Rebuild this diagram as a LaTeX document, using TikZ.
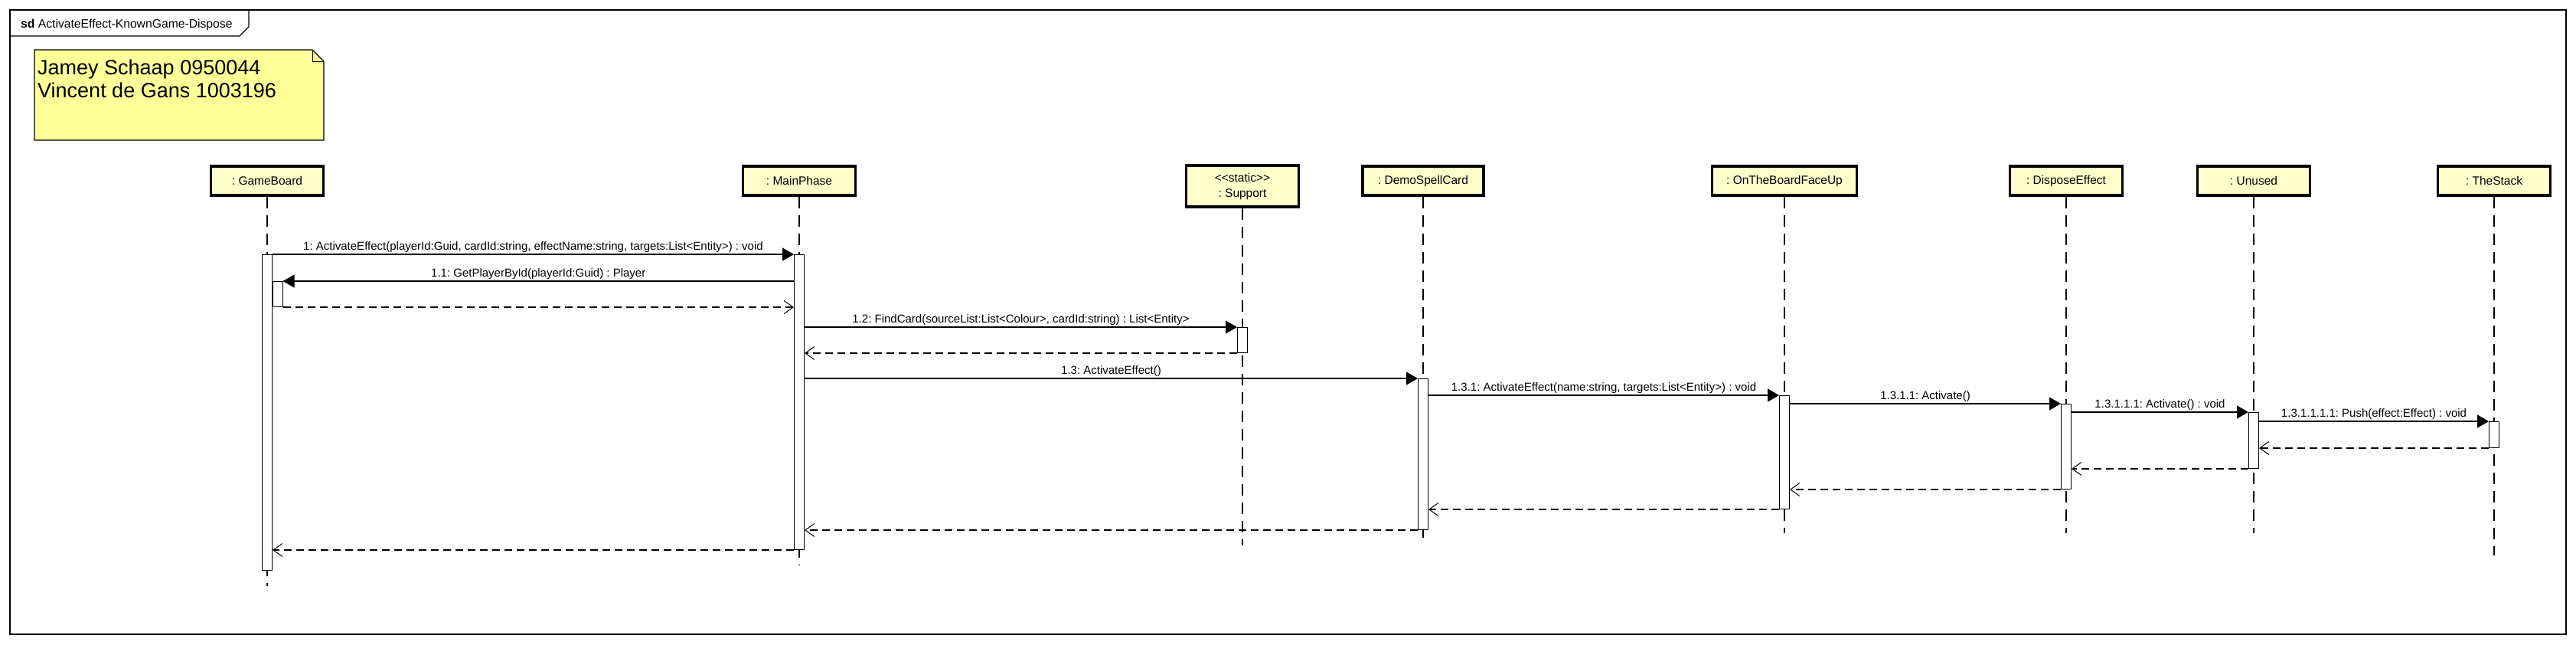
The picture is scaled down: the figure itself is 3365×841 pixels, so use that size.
\documentclass[tikz,border=0pt]{standalone}
\usepackage{fontspec}
\setmainfont{Liberation Sans}
\usetikzlibrary{arrows.meta,calc}
\definecolor{headfill}{RGB}{255,255,204}
\definecolor{notefill}{RGB}{255,255,153}
\frenchspacing
\begin{document}
\begin{tikzpicture}[x=1pt,y=-1pt,
  head/.style={draw, line width=3.2pt, fill=headfill, minimum width=147pt, minimum height=38pt, inner sep=0pt, font=\fontsize{15.5}{20}\selectfont, align=center},
  act/.style={draw, line width=1pt, fill=white, minimum width=13pt, inner sep=0pt, anchor=north},
  lifeline/.style={line width=1.2pt, dash pattern=on 15pt off 9pt},
  msg/.style={line width=1.2pt, -{Triangle[length=15pt,width=17pt]}},
  ret/.style={line width=1.2pt, dash pattern=on 10pt off 6pt, -{Straight Barb[length=12pt,width=17pt,line width=1pt]}},
  lbl/.style={font=\fontsize{15}{18}\selectfont, inner sep=2pt, anchor=south},
  notetext/.style={anchor=base west, inner sep=0pt, font=\fontsize{27}{30}\selectfont}]
\useasboundingbox (0,0) rectangle (3365,841);
% frame
\draw[line width=1.5pt] (13,13) rectangle (3352,828);
\draw[line width=1.2pt] (13,47) -- (313,47) -- (325,35) -- (325,13);
\node[anchor=base west, inner sep=0pt, font=\fontsize{15.7}{18}\selectfont] (title) at (27,36) {\textbf{sd} ActivateEffect-KnownGame-Dispose};
% note
\draw[line width=1.2pt, fill=notefill] (45,65) -- (408,65) -- (423,80) -- (423,183) -- (45,183) -- cycle;
\draw[line width=1pt] (408,65) -- (408,80) -- (423,80);
\node[notetext] (note1) at (49,97) {Jamey Schaap 0950044};
\node[notetext] (note2) at (49,127) {Vincent de Gans 1003196};
% heads
\node[head] (gb) at (349,236) {: GameBoard};
\node[head] (mp) at (1044,236) {: MainPhase};
\node[head, minimum height=54pt] (sup) at (1623,243) {{<}{<}static{>}{>}\\: Support};
\node[head, minimum width=158pt] (dsc) at (1859,236) {: DemoSpellCard};
\node[head, minimum width=189pt] (ot) at (2331,236) {: OnTheBoardFaceUp};
\node[head] (de) at (2699,236) {: DisposeEffect};
\node[head] (un) at (2944,236) {: Unused};
\node[head] (ts) at (3258,236) {: TheStack};
% lifeline ends
\coordinate (gbE) at (349,765);
\coordinate (mpE) at (1044,737);
\coordinate (supE) at (1623,712);
\coordinate (dscE) at (1859,702);
\coordinate (otE) at (2331,696);
\coordinate (deE) at (2699,696);
\coordinate (unE) at (2944,696);
\coordinate (tsE) at (3258,725);
\foreach \n in {gb,mp,sup,dsc,ot,de,un,ts}{\draw[lifeline] (\n.south) -- (\n E);}
% activations
\node[act, minimum height=412pt] (gbA) at (349,332) {};
\node[act, minimum height=33pt] (gbN) at (362.5,367) {};
\node[act, minimum height=385pt] (mpA) at (1044,332) {};
\node[act, minimum height=33pt] (supA) at (1623,427) {};
\node[act, minimum height=197pt] (dscA) at (1859,494) {};
\node[act, minimum height=148pt] (otA) at (2331,516) {};
\node[act, minimum height=111pt] (deA) at (2699,527) {};
\node[act, minimum height=73pt] (unA) at (2944,538) {};
\node[act, minimum height=34pt] (tsA) at (3258,550) {};
% messages
\draw[msg] (gbA.north east) -- node[lbl] {1: ActivateEffect(playerId:Guid, cardId:string, effectName:string, targets:List<Entity>) : void} (mpA.north west);
\draw[msg] (mpA.west |- gbN.north) -- node[lbl] {1.1: GetPlayerById(playerId:Guid) : Player} (gbN.north east);
\draw[ret] (gbN.south east) -- (mpA.west |- gbN.south);
\draw[msg] (mpA.east |- supA.north) -- node[lbl] {1.2: FindCard(sourceList:List<Colour>, cardId:string) : List<Entity>} (supA.north west);
\draw[ret] (supA.south west) -- (mpA.east |- supA.south);
\draw[msg] (mpA.east |- dscA.north) -- node[lbl] {1.3: ActivateEffect()} (dscA.north west);
\draw[msg] (dscA.east |- otA.north) -- node[lbl] {1.3.1: ActivateEffect(name:string, targets:List<Entity>) : void} (otA.north west);
\draw[msg] (otA.east |- deA.north) -- node[lbl] {1.3.1.1: Activate()} (deA.north west);
\draw[msg] (deA.east |- unA.north) -- node[lbl] {1.3.1.1.1: Activate() : void} (unA.north west);
\draw[msg] (unA.east |- tsA.north) -- node[lbl] {1.3.1.1.1.1: Push(effect:Effect) : void} (tsA.north west);
% returns
\draw[ret] (tsA.south west) -- (unA.east |- tsA.south);
\draw[ret] (unA.south west) -- (deA.east |- unA.south);
\draw[ret] (deA.south west) -- (otA.east |- deA.south);
\draw[ret] (otA.south west) -- (dscA.east |- otA.south);
\draw[ret] (dscA.south west) -- (mpA.east |- dscA.south);
\draw[ret] (mpA.south west) -- (gbA.east |- mpA.south);
\end{tikzpicture}
\end{document}
